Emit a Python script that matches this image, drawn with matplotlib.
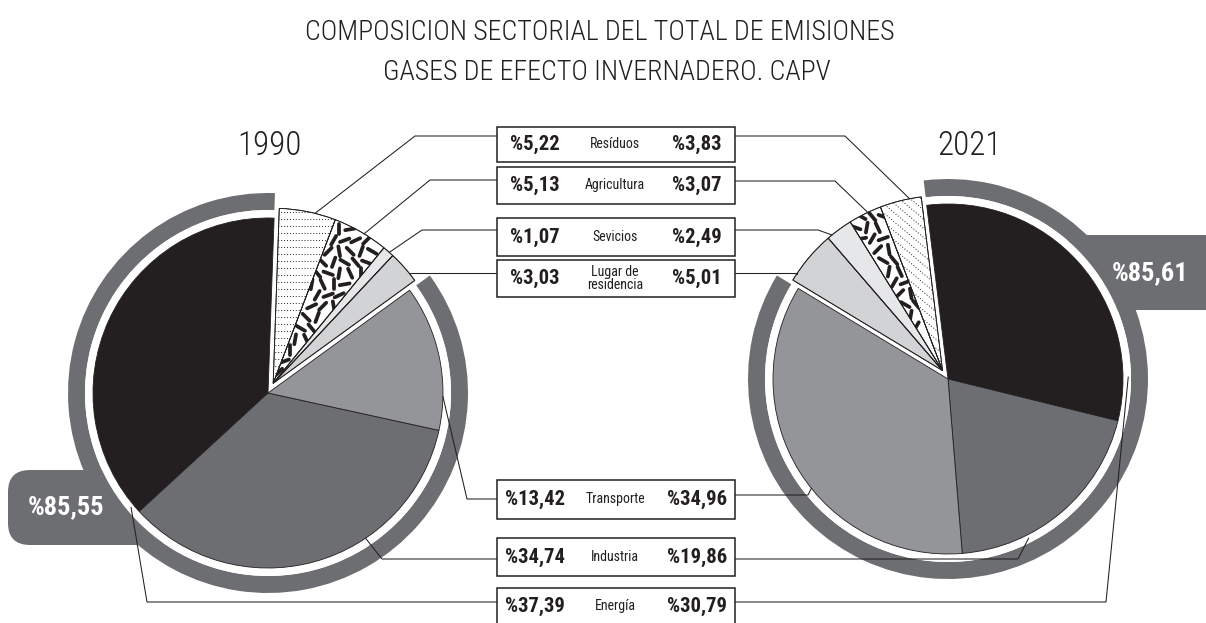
import matplotlib
matplotlib.use('Agg')
import numpy as np
import matplotlib.pyplot as plt
from matplotlib import font_manager as fm
from matplotlib.patches import Wedge, Rectangle, FancyBboxPatch, Circle
from matplotlib.collections import LineCollection

# ---------------- data ----------------
sectors = ['Energía', 'Industria', 'Transporte', 'Lugar de\nresidencia',
           'Sevicios', 'Agricultura', 'Resíduos']
values_1990 = [37.39, 34.74, 13.42, 3.03, 1.07, 5.13, 5.22]
values_2021 = [30.79, 19.86, 34.96, 5.01, 2.49, 3.07, 3.83]
year_labels = ['1990', '2021']
title_lines = ['COMPOSICION SECTORIAL DEL TOTAL DE EMISIONES',
               'GASES DE EFECTO INVERNADERO. CAPV']
n_big = 3  # Energía + Industria + Transporte form the highlighted ring

# ---------------- style ----------------
W, H = 1206, 623
EDGE = '#231f20'
RING = '#6d6e71'
fills = ['#231f20', '#6d6e71', '#939598', '#d1d3d4', '#e6e7e8', 'white', 'white']
R, R_IN, R_OUT = 175, 183, 200

avail = {f.name for f in fm.fontManager.ttflist}
def pick(*names):
    for n in names:
        if n in avail:
            return n
    return 'DejaVu Sans'
COND = pick('Roboto Condensed', 'Liberation Sans Narrow', 'Open Sans Condensed', 'DejaVu Sans')

fig = plt.figure(figsize=(W / 100, H / 100), dpi=100)
ax = fig.add_axes([0, 0, 1, 1])
renderer = fig.canvas.get_renderer()

def fit_size(s, target_w, max_size, **kw):
    t = ax.text(0, 0, s, fontsize=20, **kw)
    w = t.get_window_extent(renderer).width
    t.remove()
    return min(max_size, 20 * target_w / w)

def fmt(v):
    return '%' + f'{v:.2f}'.replace('.', ',')

# ---------------- title & years ----------------
tkw = dict(family=COND, fontstretch='condensed', fontweight='light', color=EDGE)
ts = fit_size(title_lines[0], 590, 24, **tkw)
ax.text(600, H - 33, title_lines[0], ha='center', va='center', fontsize=ts, **tkw)
ax.text(607, H - 72, title_lines[1], ha='center', va='center', fontsize=ts, **tkw)
ys = fit_size('1990', 64, 27, **tkw)
ax.text(270, H - 146, year_labels[0], ha='center', va='center', fontsize=ys, **tkw)
ax.text(969, H - 146, year_labels[1], ha='center', va='center', fontsize=ys, **tkw)


def dotted_fill(w, angle_deg, spacing=7):
    path = w.get_path()
    ext = path.get_extents()
    c = np.array([(ext.x0 + ext.x1) / 2, (ext.y0 + ext.y1) / 2])
    half = max(ext.width, ext.height)
    a = np.deg2rad(angle_deg)
    d = np.array([np.cos(a), np.sin(a)])
    nrm = np.array([-d[1], d[0]])
    segs = [[c + nrm * k - d * half, c + nrm * k + d * half]
            for k in np.arange(-half, half, spacing)]
    lc = LineCollection(segs, colors=EDGE, linewidths=0.7,
                        linestyles=[(0, (1.0, 2.0))], zorder=5.5)
    ax.add_collection(lc)
    lc.set_clip_path(w)


def dash_fill(w, spacing=11.0, length=10.0):
    path = w.get_path()
    ext = path.get_extents()
    angs = [70, 115, 25, 150, 90, 45, 130, 10, 100, 160, 60, 135, 80, 20]
    segs = []
    for i, y in enumerate(np.arange(ext.y0, ext.y1 + spacing, spacing)):
        for j, x in enumerate(np.arange(ext.x0, ext.x1 + spacing, spacing)):
            xx = x + (spacing / 2 if i % 2 else 0)
            if not path.contains_point((xx, y)):
                continue
            a = np.deg2rad(angs[(i * 5 + j * 3) % len(angs)])
            dx, dy = np.cos(a) * length / 2, np.sin(a) * length / 2
            segs.append([(xx - dx, y - dy), (xx + dx, y + dy)])
    lc = LineCollection(segs, colors=EDGE, linewidths=2.7, capstyle='round', zorder=5.5)
    ax.add_collection(lc)
    lc.set_clip_path(w)


def draw_pie(values, center, start, ccw, shift, dot_angle, box_rect, ring_text, ring_txt_xy,
             side_x, elbows, leader_y, fracs, rfac):
    wedges, _ = ax.pie(values, colors=fills, startangle=start, counterclock=ccw,
                       center=center, radius=R, frame=True,
                       wedgeprops=dict(edgecolor=EDGE, linewidth=0.6))
    for w in wedges:
        w.set_zorder(5)
    small = wedges[n_big:]
    lo = min(w.theta1 for w in small)
    hi = max(w.theta2 for w in small)
    mid = np.deg2rad((lo + hi) / 2)
    off = np.array([np.cos(mid), np.sin(mid)]) * shift
    for w in small:
        w.set_center((center[0] + off[0], center[1] + off[1]))
    # patterns
    dash_fill(wedges[5])
    dotted_fill(wedges[6], dot_angle)
    for w in small:
        ax.add_patch(Wedge(w.center, w.r, w.theta1, w.theta2, facecolor='none',
                           edgecolor=EDGE, linewidth=0.6, zorder=5.8))
    # ring around the big sectors
    big = wedges[:n_big]
    r_lo = min(w.theta1 for w in big)
    r_hi = max(w.theta2 for w in big)
    ax.add_patch(Wedge(center, R_OUT, r_lo, r_hi, width=R_OUT - R_IN,
                       facecolor=RING, edgecolor='none', zorder=2))
    ax.add_patch(Circle(center, R_IN, facecolor='white', edgecolor='none', zorder=3))
    x0, y0, bw, bh = box_rect
    ax.add_patch(FancyBboxPatch((x0, y0), bw, bh, boxstyle='round,pad=0,rounding_size=22',
                                facecolor=RING, edgecolor='none', zorder=1))
    ax.text(ring_txt_xy[0], ring_txt_xy[1], ring_text, ha='center', va='center',
            color='white', fontsize=19, fontweight='bold', family=COND,
            fontstretch='condensed', zorder=4)
    # leader lines
    for i, w in enumerate(wedges):
        th = np.deg2rad(w.theta1 + fracs[i] * (w.theta2 - w.theta1))
        px = w.center[0] + w.r * rfac[i] * np.cos(th)
        py = w.center[1] + w.r * rfac[i] * np.sin(th)
        yl = H - leader_y[i]
        ex = elbows[i] if elbows[i] is not None else px
        ax.plot([side_x, ex, px], [yl, yl, py], color=EDGE, lw=0.75, zorder=7,
                solid_joinstyle='miter')
    return wedges


draw_pie(values_1990, (268, H - 393), 88, True, 11, 0,
         (8, H - 545, 165, 75), fmt(sum(values_1990[:n_big])), (66, H - 507),
         497, [147, 382, 467, None, 422, 430, 415],
         [602, 559, 499, 273, 230, 180, 136],
         [0.98, 0.65, 0.23, 0.26, 0.4, 0.43, 0.37],
         [1.02, 1.0, 1.0, 1.0, 1.0, 1.0, 1.0])

draw_pie(values_2021, (948, H - 379), 97, False, 10, -40,
         (1062, H - 310, 200, 75), fmt(sum(values_2021[:n_big])), (1150, H - 273),
         735, [1106, 1018, 808, None, 818, 835, 845],
         [602, 559, 495, 273, 230, 181, 136],
         [0.13, 0.31, 0.555, 0.86, 0.82, 0.41, 0.28],
         [1.03, 1.02, 1.0, 1.0, 1.0, 1.0, 1.0])

# ---------------- central label boxes ----------------
box_rows = [(588, 624), (538, 576), (480, 519), (260, 297), (218, 256), (167, 204), (127, 162)]
vkw = dict(family=COND, fontstretch='condensed', fontweight='bold', color=EDGE)
vs = fit_size('%13,42', 60, 15, **vkw)
lkw = dict(family=COND, fontstretch='condensed', color=EDGE)
ls = fit_size('Agricultura', 66, 10, **lkw)
for i, (top, bot) in enumerate(box_rows):
    ax.add_patch(Rectangle((497, H - bot), 238, bot - top, facecolor='white',
                           edgecolor=EDGE, linewidth=1.1, zorder=8))
    yc = H - (top + bot) / 2
    ax.text(535, yc, fmt(values_1990[i]), ha='center', va='center', fontsize=vs, zorder=9, **vkw)
    ax.text(615, yc, sectors[i], ha='center', va='center', fontsize=ls, zorder=9,
            linespacing=0.9, **lkw)
    ax.text(697, yc, fmt(values_2021[i]), ha='center', va='center', fontsize=vs, zorder=9, **vkw)

ax.set_xlim(0, W)
ax.set_ylim(0, H)
ax.set_aspect('equal')
ax.axis('off')
fig.savefig('out.png', dpi=100, facecolor='white')
